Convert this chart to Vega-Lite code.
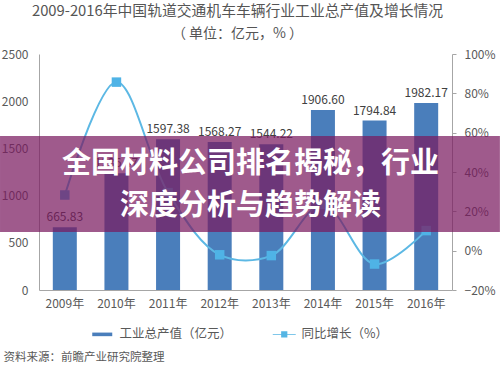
{
  "$schema": "https://vega.github.io/schema/vega-lite/v6.json",
  "width": 413,
  "height": 236,
  "autosize": {"type": "none"},
  "padding": {"left": 39, "top": 54, "right": 48, "bottom": 81},
  "background": "white",
  "title": {
    "text": "2009-2016年中国轨道交通机车车辆行业工业总产值及增长情况",
    "subtitle": "（ 单位：亿元，% ）",
    "anchor": "middle",
    "dx": -8,
    "offset": 7,
    "fontSize": 14.8,
    "subtitleFontSize": 14,
    "fontWeight": "normal",
    "color": "#555555",
    "subtitleColor": "#555555",
    "font": "Noto Sans CJK SC",
    "subtitleFont": "Noto Sans CJK SC",
    "subtitlePadding": 8
  },
  "config": {"view": {"stroke": null}, "font": "Noto Sans CJK SC"},
  "datasets": {
    "main": [
      {"year": "2009年", "output": 665.83, "growth": 28.3},
      {"year": "2010年", "output": 1236.47, "growth": 85.7},
      {"year": "2011年", "output": 1597.38, "growth": 29.5},
      {"year": "2012年", "output": 1568.27, "growth": -2.1},
      {"year": "2013年", "output": 1544.22, "growth": -2.5},
      {"year": "2014年", "output": 1906.60, "growth": 23.5},
      {"year": "2015年", "output": 1794.84, "growth": -6.8},
      {"year": "2016年", "output": 1982.17, "growth": 10.2}
    ],
    "series": [
      {"series": "output"},
      {"series": "growth"}
    ],
    "banner": [{"x0": -0.0944, "x1": 1.116, "top": 1631, "bottom": 614}],
    "bannerText": [
      {"t": "全国材料公司排名揭秘，行业", "xv": 0.512, "yv": 1335},
      {"t": "深度分析与趋势解读", "xv": 0.512, "yv": 890}
    ]
  },
  "layer": [
    {
      "data": {"name": "main"},
      "encoding": {
        "x": {
          "field": "year",
          "type": "nominal",
          "sort": null,
          "scale": {"paddingInner": 0.535, "paddingOuter": 0.2675},
          "axis": {
            "title": "资料来源：前瞻产业研究院整理",
            "titleX": -36,
            "titleY": 67,
            "titleAlign": "left",
            "titleAnchor": "start",
            "titleBaseline": "middle",
            "titleFontSize": 11.5,
            "titleFontWeight": "normal",
            "titleColor": "#595959",
            "labelAngle": 0,
            "labelFontSize": 12,
            "labelColor": "#595959",
            "labelPadding": 8,
            "ticks": false,
            "domainColor": "#a6a6a6"
          }
        },
        "y": {
          "field": "output",
          "type": "quantitative",
          "scale": {"domain": [0, 2500], "nice": false},
          "axis": {
            "title": null,
            "values": [0, 500, 1000, 1500, 2000, 2500],
            "format": "d",
            "ticks": false,
            "grid": false,
            "labelPadding": 11,
            "labelFontSize": 12,
            "labelColor": "#595959",
            "domainColor": "#a6a6a6"
          }
        }
      },
      "layer": [
        {"mark": {"type": "bar", "color": "#4a7ebb"}},
        {
          "mark": {"type": "text", "baseline": "bottom", "dy": -3, "fontSize": 12, "color": "#404040"},
          "encoding": {"text": {"field": "output", "type": "quantitative", "format": ".2f"}}
        }
      ]
    },
    {
      "data": {"name": "main"},
      "encoding": {
        "x": {
          "field": "year",
          "type": "nominal",
          "sort": null,
          "scale": {"paddingInner": 0.535, "paddingOuter": 0.2675},
          "axis": null
        },
        "y": {
          "field": "growth",
          "type": "quantitative",
          "scale": {"domain": [-20, 100], "nice": false, "zero": false},
          "axis": {
            "orient": "right",
            "title": null,
            "values": [-20, 0, 20, 40, 60, 80, 100],
            "labelExpr": "datum.label + '%'",
            "grid": false,
            "tickSize": 4,
            "tickColor": "#a6a6a6",
            "domainColor": "#a6a6a6",
            "labelPadding": 8,
            "labelFontSize": 12,
            "labelColor": "#595959"
          }
        }
      },
      "layer": [
        {"mark": {"type": "line", "interpolate": "catmull-rom", "color": "#5cb8e4", "strokeWidth": 2}},
        {"mark": {"type": "point", "shape": "square", "filled": true, "size": 90, "opacity": 1, "color": "#4fb3e6"}}
      ]
    },
    {
      "data": {"name": "series"},
      "transform": [{"filter": "false"}],
      "mark": {"type": "point", "filled": true, "size": 196, "opacity": 1},
      "encoding": {
        "color": {
          "field": "series",
          "type": "nominal",
          "scale": {"domain": ["output", "growth"], "range": ["#4a7ebb", "#55b5e4"]},
          "legend": {
            "orient": "none",
            "legendX": 57,
            "legendY": 274,
            "direction": "horizontal",
            "title": null,
            "labelExpr": "datum.value == 'output' ? '工业总产值（亿元）' : '同比增长（%）'",
            "labelFontSize": 12.5,
            "labelColor": "#595959",
            "labelOffset": 11,
            "columnPadding": 39
          }
        },
        "shape": {
          "field": "series",
          "type": "nominal",
          "scale": {
            "domain": ["output", "growth"],
            "range": [
              "M-2,-0.36H2V0.36H-2Z",
              "M-2.3,-0.08H2.3V0.08H-2.3Z M-0.62,-0.62H0.62V0.62H-0.62Z"
            ]
          },
          "legend": {
            "orient": "none",
            "legendX": 57,
            "legendY": 274,
            "direction": "horizontal",
            "title": null,
            "labelExpr": "datum.value == 'output' ? '工业总产值（亿元）' : '同比增长（%）'",
            "labelFontSize": 12.5,
            "labelColor": "#595959",
            "labelOffset": 11,
            "columnPadding": 39
          }
        }
      }
    },
    {
      "data": {"name": "banner"},
      "mark": {"type": "rect", "fill": "#7a1a60", "opacity": 0.72},
      "encoding": {
        "x": {"field": "x0", "type": "quantitative", "scale": {"domain": [0, 1], "nice": false, "zero": false}, "axis": null},
        "x2": {"field": "x1"},
        "y": {"field": "top", "type": "quantitative", "scale": {"domain": [0, 2500], "nice": false}, "axis": null},
        "y2": {"field": "bottom"}
      }
    },
    {
      "data": {"name": "bannerText"},
      "mark": {"type": "text", "align": "center", "baseline": "middle", "fontSize": 29, "fontWeight": "bold", "color": "#ffffff", "font": "Noto Sans CJK SC"},
      "encoding": {
        "x": {"field": "xv", "type": "quantitative", "scale": {"domain": [0, 1], "nice": false, "zero": false}, "axis": null},
        "y": {"field": "yv", "type": "quantitative", "scale": {"domain": [0, 2500], "nice": false}, "axis": null},
        "text": {"field": "t"}
      }
    }
  ],
  "resolve": {"scale": {"x": "independent", "y": "independent"}}
}
